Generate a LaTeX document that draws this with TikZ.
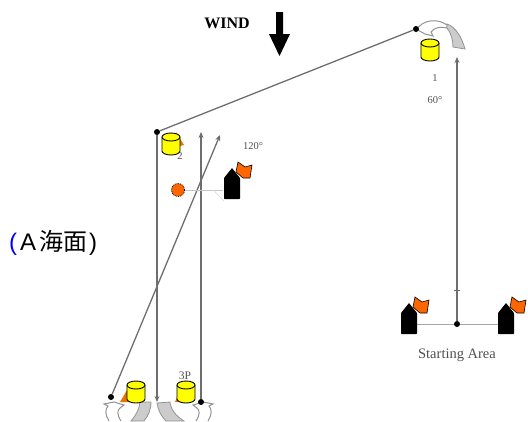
\documentclass[tikz,border=0pt]{standalone}
\usepackage{fontspec}
\setmainfont{Liberation Serif}
\newfontfamily\cjk{Noto Sans CJK JP}
\newfontfamily\lat{Liberation Sans}
\usetikzlibrary{arrows.meta}
\definecolor{markyellow}{HTML}{FFFF00}
\definecolor{flagorange}{HTML}{FF6600}
\definecolor{legline}{HTML}{6E6E6E}
\definecolor{labgray}{HTML}{505050}
\tikzset{
  x=1pt,y=-1pt,
  leg/.style={draw=legline,line width=1.3pt},
  legtip/.style={leg,-{Stealth[length=6pt,width=5pt]}},
  thin line/.style={draw=gray!70,line width=1pt},
  lab/.style={text=labgray,font=\fontsize{10.5}{11}\selectfont,inner sep=0pt},
  dot/.style={circle,fill=black,inner sep=0pt,minimum size=6pt},
  curl/.style={draw=gray!85,fill=white,line width=1pt},
  swoosh/.style={draw=gray!85,fill=gray!40,line width=.8pt},
}
\newcommand{\markcyl}[2]{%
  \begin{scope}[shift={(#1,#2)}]
    \draw[fill=markyellow,line width=.9pt] (0,4) -- (0,18) arc[x radius=9,y radius=4,start angle=180,end angle=0] -- (18,4);
    \draw[fill=markyellow,line width=.9pt] (9,4) ellipse[x radius=9,y radius=4];
  \end{scope}}
\newcommand{\boatflag}[2]{%
  \begin{scope}[shift={(#1,#2)}]
    \fill[black,rounded corners=.6pt] (0,31) -- (0,10) -- (8,0) -- (16,10) -- (16,31) -- cycle;
    \draw[fill=flagorange,line width=.6pt] (14,-6) -- (21,-1) -- (28,-3) -- (26,10) -- (19,10) -- (12,4) -- cycle;
  \end{scope}}
\newcommand{\groundcurl}{%
  \draw[curl] (109,421) .. controls (105,415) and (105,409) .. (108,406) -- (104,404) -- (114,402) -- (124,405) -- (120,408) .. controls (117,410) and (117,415) .. (121,421);}
\begin{document}
\begin{tikzpicture}
\useasboundingbox (0,0) rectangle (528,421);
\node[font=\bfseries\fontsize{16}{17}\selectfont,inner sep=0pt] (wind) at (227,23) {WIND};
\fill[black] (276,12) -- (283,12) -- (283,34) -- (290,34) -- (279.5,56) -- (269,34) -- (276,34) -- cycle;
% curved rounding arrows
\draw[curl] (416,29) -- (422,24) .. controls (430,19) and (440,20) .. (447,25) -- (447,28) .. controls (440,26) and (434,28) .. (431,32) -- (433,36) -- (425,34) -- cycle;
\draw[swoosh] (447,24) .. controls (456,27) and (462,38) .. (465,49) -- (453,47) .. controls (453,40) and (451,33) .. (447,28) -- cycle;
\groundcurl
\begin{scope}[shift={(317,0)},xscale=-1]\groundcurl\end{scope}
\draw[swoosh] (140,402) -- (151,402) .. controls (151,410) and (148,416) .. (144,421) -- (131,421) .. controls (136,415) and (139,410) .. (140,402) -- cycle;
\draw[swoosh] (157,403) -- (170,402) .. controls (171,410) and (176,416) .. (184,421) -- (166,421) .. controls (161,416) and (158,410) .. (157,403) -- cycle;
% nodes
\node[dot] (m1) at (416,29) {};
\node[dot] (m2) at (157,132) {};
\node[dot] (gl) at (111,397) {};
\node[dot] (gr) at (201,402) {};
\node[dot] (sl) at (457,324) {};
\coordinate (s1) at (417,324);
\coordinate (s2) at (498,324);
\coordinate (top1) at (457,57);
\coordinate (top2) at (201,132);
\coordinate (top3) at (220,135);
\coordinate (bot) at (157,402);
\coordinate (p2) at (223,190);
% lines
\draw[leg] (m2) -- (m1);
\draw[legtip] (m2) -- (bot);
\draw[legtip] (gr) -- (top2);
\draw[legtip] (gl) -- (top3);
\draw[legtip] (sl) -- (top1);
\draw[leg,line width=.8pt] (454,290) -- (460,290);
\draw[thin line] (s1) -- (sl) -- (s2);
\node[circle,draw=black,fill=flagorange,densely dotted,line width=.8pt,minimum size=13pt,inner sep=0pt] (pin) at (178,190) {};
\draw[thin line,draw=gray!45] (pin) -- (p2);
\draw[draw=gray!25,line width=.8pt] (213,190) -- (224,201);
% marks
\fill[orange!90!black] (120,402) -- (130,385) -- (130,402) -- cycle;
\fill[orange!90!black] (175,402) -- (179,392) -- (179,402) -- cycle;
\fill[orange!90!black] (176,132) -- (184,145) -- (180,146) -- cycle;
\markcyl{162}{133}
\markcyl{127}{381}
\markcyl{177}{381}
\markcyl{421}{39}
\boatflag{224}{168}
\boatflag{401}{303}
\boatflag{498}{303}
% labels
\node[lab] (l2) at (180,156) {2};
\node[lab] (l120) at (253,146) {120°};
\node[lab] (l1) at (435,78) {1};
\node[lab] (l60) at (435,100) {60°};
\node[lab,font=\fontsize{14.5}{15}\selectfont] (ls) at (457,355) {Starting Area};
\node[lab,font=\fontsize{11.5}{12}\selectfont] (l3p) at (185,376) {3P};
\node[inner sep=0pt,anchor=west,font=\fontsize{24}{26}\selectfont] (sea) at (9,243) {{\lat\textcolor{blue}{(}}\hspace{3pt}{\lat A}\hspace{3pt}{\cjk 海面}\hspace{2pt}{\lat )}};
\end{tikzpicture}
\end{document}
